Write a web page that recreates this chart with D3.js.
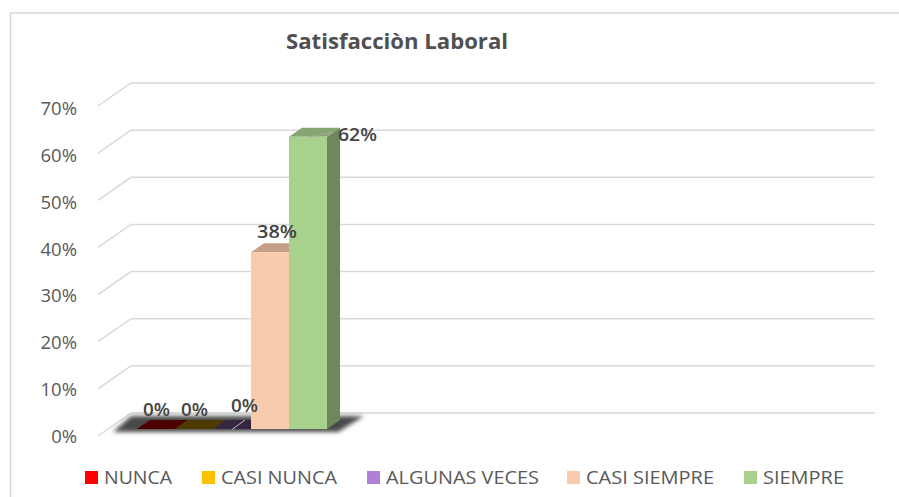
<!DOCTYPE html>
<html>
<head>
<meta charset="utf-8">
<script src="https://cdn.jsdelivr.net/npm/d3@7"></script>
<style>
  body { margin: 0; background: #fff; }
  text { font-family: "Open Sans", sans-serif; }
</style>
</head>
<body>
<svg id="chart" width="899" height="497"></svg>
<script>
const chartTitle = 'Satisfacciòn Laboral';
const categories = ['NUNCA', 'CASI NUNCA', 'ALGUNAS VECES', 'CASI SIEMPRE', 'SIEMPRE'];
const values = [0, 0, 0, 0.375, 0.62];
const colors = ['#ff0000', '#ffc000', '#b07fd8', '#f8cbad', '#a9d18e'];
const yTicks = [0, 0.1, 0.2, 0.3, 0.4, 0.5, 0.6, 0.7];

const svg = d3.select('#chart');
const fmt = d3.format('.0%');

// fake 3d: everything at the back wall is shifted by wallX / wallY
const wallX = 33, wallY = -23;
const barDepthX = 13, barDepthY = -9;

const yBack = d3.scaleLinear().domain([0, 0.7]).range([413, 83]);
const yBar = d3.scaleLinear().domain([0, 0.7]).range([429, 99]);
const yLabel = d3.scaleLinear().domain([0, 0.7]).range([443, 115]);
const xBar = d3.scaleBand().domain(categories).range([137, 327]);

const shade = (c, k) => {
    const r = d3.rgb(c);
    return d3.rgb(r.r * k, r.g * k, r.b * k).formatHex();
};

// outer frame, open at the bottom
svg.append('path')
    .attr('d', 'M10.5,497V13H899')
    .attr('fill', 'none')
    .attr('stroke', '#d9d9d9')
    .attr('stroke-width', 1.5);

svg.append('text')
    .attr('x', 286)
    .attr('y', 49)
    .attr('textLength', 222)
    .attr('lengthAdjust', 'spacingAndGlyphs')
    .attr('font-size', 21.5)
    .attr('font-weight', 700)
    .attr('fill', '#505050')
    .text(chartTitle);

// gridlines
const grid = svg.append('g');
yTicks.forEach(t => {
    grid.append('path')
        .attr('d', `M98,${yBack(t) - wallY}L${98 + wallX},${yBack(t)}H875`)
        .attr('fill', 'none')
        .attr('stroke', '#d9d9d9')
        .attr('stroke-width', 1.5);
});

// y labels
svg.append('g').selectAll('text')
    .data(yTicks)
    .enter().append('text')
    .attr('x', 77)
    .attr('y', d => yLabel(d))
    .attr('text-anchor', 'end')
    .attr('font-size', 18.5)
    .attr('fill', '#595959')
    .text(fmt);

// floor shadow
const defs = svg.append('defs');
defs.append('filter').attr('id', 'blur')
    .attr('x', '-10%').attr('width', '120%')
    .attr('y', '-50%').attr('height', '200%')
    .append('feGaussianBlur').attr('stdDeviation', 2.2);

svg.append('path')
    .attr('d', 'M113,432L131,416H364L338,432Z')
    .attr('fill', '#4a4a4a')
    .attr('filter', 'url(#blur)');

// bars, left to right so each one covers the previous top
const bars = svg.append('g');
categories.forEach((cat, i) => {
    const x0 = xBar(cat), x1 = x0 + xBar.bandwidth();
    const yTop = yBar(values[i]), yBase = yBar(0);
    const isZero = values[i] === 0;
    bars.append('path')
        .attr('d', `M${x0},${yTop}L${x0 + barDepthX},${yTop + barDepthY}H${x1 + barDepthX}L${x1},${yTop}Z`)
        .attr('fill', shade(colors[i], isZero ? 0.3 : 0.79));
    if (isZero) return;
    bars.append('path')
        .attr('d', `M${x1},${yTop}L${x1 + barDepthX},${yTop + barDepthY}V${yBase + barDepthY}L${x1},${yBase}Z`)
        .attr('fill', shade(colors[i], 0.65));
    bars.append('rect')
        .attr('x', x0)
        .attr('y', yTop)
        .attr('width', xBar.bandwidth())
        .attr('height', yBase - yTop)
        .attr('fill', colors[i]);
});

// leader lines of the moved labels
svg.append('line')
    .attr('x1', 232).attr('y1', 429.5).attr('x2', 245).attr('y2', 420)
    .attr('stroke', '#bfbfbf').attr('stroke-width', 1);
svg.append('line')
    .attr('x1', 309).attr('y1', 137).attr('x2', 332).attr('y2', 132.5)
    .attr('stroke', '#a6a6a6').attr('stroke-width', 1);

// data labels, hand placed like in the original: left, baseline, width
const labelPos = [[143, 416, 27], [181, 416, 27], [231, 412, 27], [257, 238, 40], [338, 141, 39]];
svg.append('g').selectAll('text')
    .data(values)
    .enter().append('text')
    .attr('x', (d, i) => labelPos[i][0])
    .attr('y', (d, i) => labelPos[i][1])
    .attr('textLength', (d, i) => labelPos[i][2])
    .attr('lengthAdjust', 'spacingAndGlyphs')
    .attr('font-size', 18)
    .attr('font-weight', 600)
    .attr('fill', '#444444')
    .text(fmt);

// legend: swatch left, text width
const legendX = [85, 202, 367, 567, 744];
const legendW = [68, 116, 153, 128, 81];
const legend = svg.append('g').selectAll('g')
    .data(categories)
    .enter().append('g')
    .attr('transform', (d, i) => `translate(${legendX[i]},471)`);

legend.append('rect')
    .attr('width', 13)
    .attr('height', 13)
    .attr('fill', (d, i) => colors[i]);

legend.append('text')
    .attr('x', 19)
    .attr('y', 13)
    .attr('textLength', (d, i) => legendW[i])
    .attr('lengthAdjust', 'spacingAndGlyphs')
    .attr('font-size', 18)
    .attr('fill', '#595959')
    .text(d => d);
</script>
</body>
</html>
